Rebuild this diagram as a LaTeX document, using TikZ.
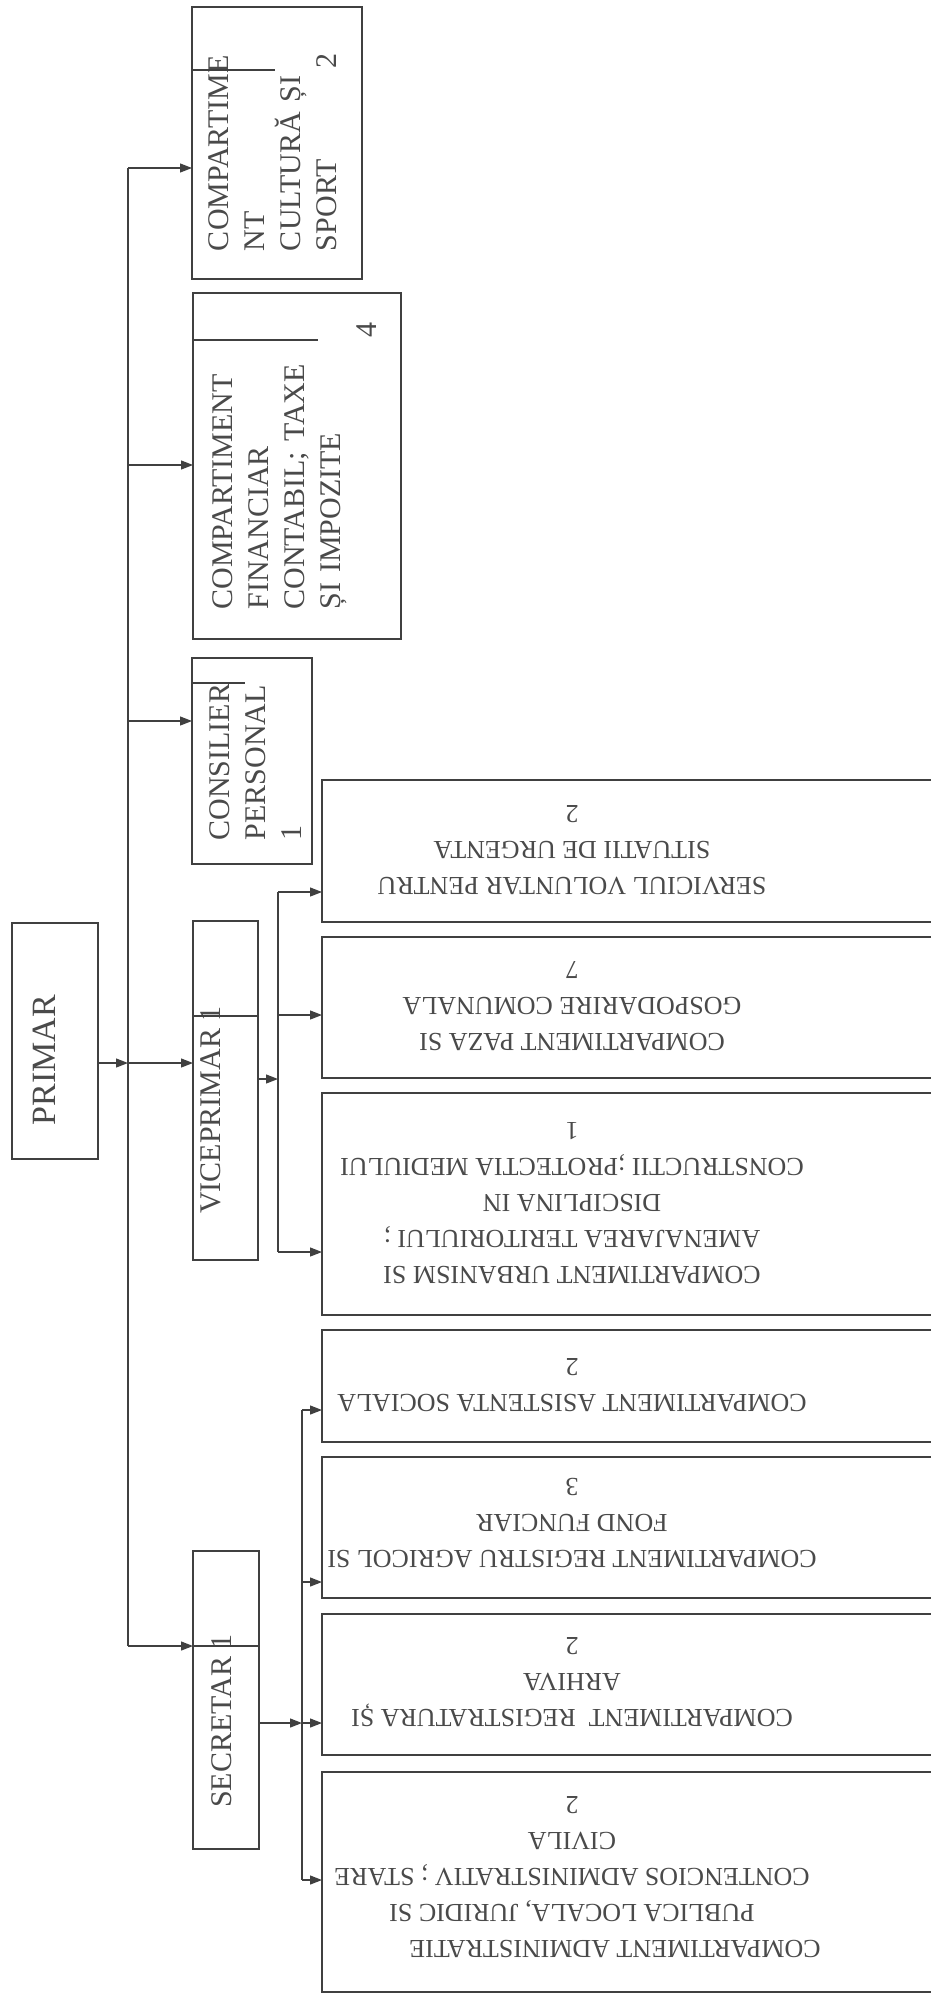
\documentclass[tikz,border=0pt]{standalone}
\usepackage{fontspec}
\setmainfont{Liberation Serif}
\usetikzlibrary{arrows.meta}
\definecolor{lncol}{HTML}{404040}
\definecolor{txcol}{HTML}{4A4A4A}
\begin{document}
\begin{tikzpicture}[x=1pt,y=-1pt,
  box/.style={draw=lncol, line width=1.2pt, rectangle, inner sep=0pt, outer sep=0pt},
  wire/.style={draw=lncol, line width=1.2pt},
  arr/.style={draw=lncol, line width=1.2pt, -{Triangle[length=12pt,width=9pt]}},
  ltxt/.style={rotate=90, text=txcol, font=\fontsize{30}{36}\selectfont, align=left, inner sep=0pt},
  rtxt/.style={rotate=180, text=txcol, font=\fontsize{26}{36}\selectfont, align=center, inner sep=0pt}]
\useasboundingbox (0,0) rectangle (931,1996);
\fill[white] (0,0) rectangle (931,1996);
\begin{scope}
\clip (0,0) rectangle (931,1996);
% left column boxes
\node[box, minimum width=86pt, minimum height=236pt] (primar) at (55,1041) {};
\node[box, minimum width=170pt, minimum height=272pt] (cult) at (277,143) {};
\node[box, minimum width=208pt, minimum height=346pt] (fin) at (297,466) {};
\node[box, minimum width=120pt, minimum height=206pt] (cons) at (252,761) {};
\node[box, minimum width=65pt, minimum height=339pt] (vice) at (225.5,1090.5) {};
\node[box, minimum width=66pt, minimum height=298pt] (secr) at (226,1700) {};
% texts left
\node[ltxt, font=\fontsize{34}{40}\selectfont] (primarT) at (44,1060) {PRIMAR};
\node[ltxt, text width=198pt] (cultT) at (273,152) {COMPARTIME\\NT\\CULTURĂ ȘI\\SPORT\hfill 2};
\node[ltxt, text width=287pt] (finT) at (295,466) {COMPARTIMENT\\FINANCIAR\\CONTABIL; TAXE\\ȘI IMPOZITE\\\mbox{}\hfill 4};
\node[ltxt] (consT) at (256,762) {CONSILIER\\PERSONAL\\1};
\node[ltxt] (viceT) at (211,1110) {VICEPRIMAR 1};
\node[ltxt] (secrT) at (222,1721) {SECRETAR 1};
% right boxes
\node[box, minimum width=638pt, minimum height=142pt] (serv) at (641,851) {};
\node[box, minimum width=638pt, minimum height=141pt] (paza) at (641,1007.5) {};
\node[box, minimum width=638pt, minimum height=222pt] (urb) at (641,1204) {};
\node[box, minimum width=638pt, minimum height=112pt] (asist) at (641,1386) {};
\node[box, minimum width=638pt, minimum height=141pt] (agr) at (641,1527.5) {};
\node[box, minimum width=638pt, minimum height=141pt] (regis) at (641,1684.5) {};
\node[box, minimum width=638pt, minimum height=220pt] (admin) at (641,1882) {};
% texts right
\node[rtxt] (servT) at (572,850) {SERVICIUL VOLUNTAR PENTRU\\SITUATII DE URGENTA\\2};
\node[rtxt] (pazaT) at (572,1006) {COMPARTIMENT PAZA SI\\GOSPODARIRE COMUNALA\\7};
\node[rtxt] (urbT) at (572,1203) {COMPARTIMENT URBANISM SI\\AMENAJAREA TERITORIULUI ;\\DISCIPLINA IN\\CONSTRUCTII ;PROTECTIA MEDIULUI\\1};
\node[rtxt] (asistT) at (572,1385) {COMPARTIMENT ASISTENTA SOCIALA\\2};
\node[rtxt] (agrT) at (572,1523) {COMPARTIMENT REGISTRU AGRICOL SI\\FOND FUNCIAR\\3};
\node[rtxt] (regisT) at (572,1682) {COMPARTIMENT\ \ REGISTRATURA ȘI\\ARHIVA\\2};
\node[rtxt] (adminT) at (572,1877) {COMPARTIMENT ADMINISTRATIE\hspace*{86pt}\\PUBLICA LOCALA, JURIDIC SI\hspace*{86pt}\\CONTENCIOS ADMINISTRATIV ; STARE\hspace*{48pt}\\CIVILA\\2};
% main bus
\coordinate (bc) at (128,168);
\coordinate (bf) at (128,465);
\coordinate (bco) at (128,721);
\coordinate (bv) at (128,1063);
\coordinate (bs) at (128,1646);
\draw[wire] (bc) -- (bs);
\draw[arr] (primar.east|-bv) -- (bv);
\draw[arr] (bc) -- (cult.west|-bc);
\draw[arr] (bf) -- (fin.west|-bf);
\draw[arr] (bco) -- (cons.west|-bco);
\draw[arr] (bv) -- (vice.west|-bv);
\draw[arr] (bs) -- (secr.west|-bs);
% stray lines inside boxes
\draw[wire] (cult.west|-0,70) -- (275,70);
\draw[wire] (fin.west|-0,340) -- (318,340);
\draw[wire] (cons.west|-0,683) -- (245,683);
\draw[wire] (vice.west|-0,1016) -- (vice.east|-0,1016);
\draw[wire] (secr.west|-bs) -- (secr.east|-bs);
% viceprimar bus
\coordinate (vb1) at (278,892);
\coordinate (vb2) at (278,1015);
\coordinate (vb3) at (278,1252);
\coordinate (vo) at (278,1079);
\draw[wire] (vb1) -- (vb3);
\draw[arr] (vice.east|-vo) -- (vo);
\draw[arr] (vb1) -- (serv.west|-vb1);
\draw[arr] (vb2) -- (paza.west|-vb2);
\draw[arr] (vb3) -- (urb.west|-vb3);
% secretar bus
\coordinate (sb1) at (302,1410);
\coordinate (sb2) at (302,1582);
\coordinate (sb3) at (302,1723);
\coordinate (sb4) at (302,1880);
\draw[wire] (sb1) -- (sb4);
\draw[arr] (secr.east|-sb3) -- (sb3);
\draw[arr] (sb1) -- (asist.west|-sb1);
\draw[arr] (sb2) -- (agr.west|-sb2);
\draw[arr] (sb3) -- (regis.west|-sb3);
\draw[arr] (sb4) -- (admin.west|-sb4);
\end{scope}
\end{tikzpicture}
\end{document}
